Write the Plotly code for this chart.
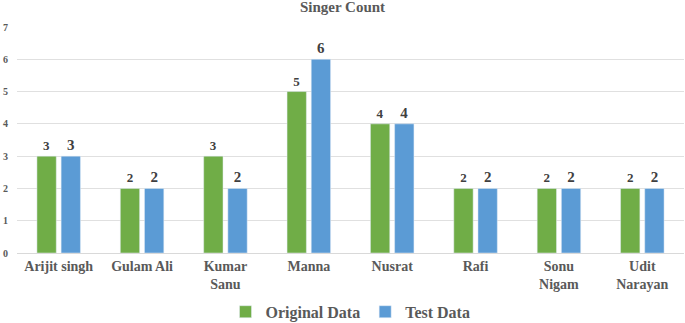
import plotly.graph_objects as go

categories = ["Arijit singh", "Gulam Ali", "Kumar<br>Sanu", "Manna", "Nusrat", "Rafi", "Sonu<br>Nigam", "Udit<br>Narayan"]
original_data = [3, 2, 3, 5, 4, 2, 2, 2]
test_data = [3, 2, 2, 6, 4, 2, 2, 2]
y_ticks = [0, 1, 2, 3, 4, 5, 6, 7]

font_family = "Liberation Serif"

fig = go.Figure()
fig.add_trace(go.Bar(
    x=categories, y=original_data, name="<b>Original Data</b>",
    marker=dict(color="#70AD47"),
    text=original_data, texttemplate="<b>%{text}</b>", textposition="outside",
    textfont=dict(family=font_family, size=13, color="#404040"),
    cliponaxis=False,
))
fig.add_trace(go.Bar(
    x=categories, y=test_data, name="<b>Test Data</b>",
    marker=dict(color="#5B9BD5"),
    text=test_data, texttemplate="<b>%{text}</b>", textposition="outside",
    textfont=dict(family=font_family, size=15, color="#404040"),
    cliponaxis=False,
))

fig.update_layout(
    width=685, height=323,
    margin=dict(l=17, r=1, t=27, b=70, autoexpand=False),
    paper_bgcolor="white", plot_bgcolor="white",
    barmode="group", bargap=0.42, bargroupgap=0.2,
    title=dict(text="<b>Singer Count</b>", x=0.5, xanchor="center", y=0.995, yanchor="top",
               font=dict(family=font_family, size=15, color="#595959")),
    font=dict(family=font_family, color="#595959"),
    showlegend=True,
    legend=dict(orientation="h", x=0.5, xanchor="center", y=-0.185, yanchor="top",
                font=dict(family=font_family, size=16, color="#595959"),
                traceorder="normal", itemwidth=30),
)
fig.update_yaxes(range=[0, 7], tickvals=y_ticks, ticktext=[f"<b>{v}</b>" for v in y_ticks],
                 showgrid=True, gridcolor="#E0E0E0", gridwidth=1, zeroline=False,
                 showline=False, tickfont=dict(family=font_family, size=10, color="#595959"),
                 ticklen=0, ticklabelstandoff=8, automargin=False)
fig.update_xaxes(showline=True, linecolor="#D9D9D9", linewidth=1, ticks="",
                 tickfont=dict(family=font_family, size=14, color="#595959"),
                 ticktext=[f"<b>{c}</b>" for c in categories], tickvals=categories, automargin=False)

fig.write_html("out.html", config={"displayModeBar": False},
               post_script="document.body.style.margin='0';")
